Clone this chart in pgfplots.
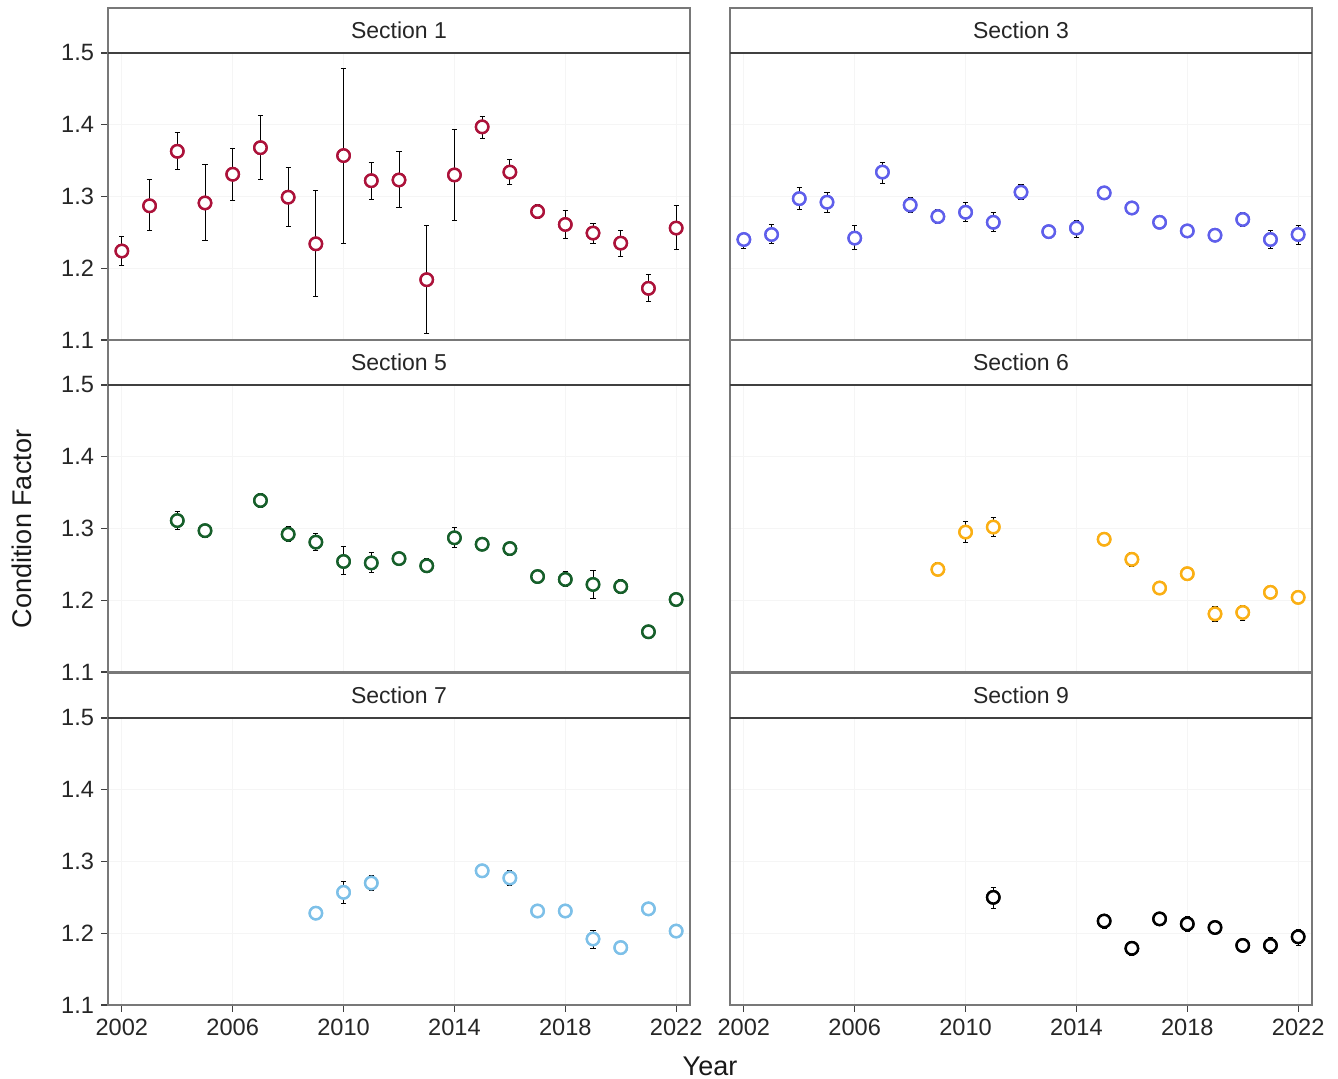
\documentclass[border=0pt]{standalone}
\usepackage{pgfplots}
\pgfplotsset{compat=1.18}
\usepackage{pgfplotstable}
\usepackage{fontspec}
\setmainfont{Liberation Sans}

\definecolor{cA}{RGB}{172,18,58}
\definecolor{cB}{RGB}{95,95,235}
\definecolor{cC}{RGB}{22,95,42}
\definecolor{cD}{RGB}{250,175,20}
\definecolor{cE}{RGB}{125,192,232}
\definecolor{cF}{RGB}{0,0,0}
\definecolor{frame}{RGB}{120,120,120}

\pgfplotstableread{
x y lo hi
2002 1.224 1.204 1.244
2003 1.287 1.252 1.323
2004 1.363 1.337 1.389
2005 1.291 1.239 1.344
2006 1.331 1.295 1.367
2007 1.368 1.323 1.413
2008 1.299 1.258 1.340
2009 1.234 1.160 1.309
2010 1.357 1.235 1.479
2011 1.322 1.296 1.347
2012 1.323 1.284 1.362
2013 1.184 1.109 1.259
2014 1.330 1.266 1.393
2015 1.397 1.381 1.412
2016 1.334 1.317 1.351
2017 1.279 1.269 1.289
2018 1.261 1.241 1.281
2019 1.249 1.235 1.263
2020 1.235 1.217 1.252
2021 1.172 1.153 1.191
2022 1.256 1.226 1.287
}\secA

\pgfplotstableread{
x y lo hi
2002 1.240 1.228 1.249
2003 1.247 1.234 1.261
2004 1.297 1.282 1.312
2005 1.292 1.278 1.305
2006 1.242 1.226 1.259
2007 1.334 1.318 1.348
2008 1.288 1.278 1.298
2009 1.272 1.262 1.282
2010 1.278 1.265 1.292
2011 1.264 1.251 1.277
2012 1.306 1.296 1.316
2013 1.251 1.243 1.258
2014 1.256 1.243 1.267
2015 1.305 1.300 1.310
2016 1.284 1.279 1.289
2017 1.264 1.259 1.269
2018 1.252 1.247 1.257
2019 1.246 1.241 1.251
2020 1.268 1.258 1.277
2021 1.240 1.227 1.253
2022 1.247 1.233 1.260
}\secB

\pgfplotstableread{
x y lo hi
2004 1.311 1.298 1.324
2005 1.297 1.288 1.304
2007 1.339 1.329 1.349
2008 1.292 1.282 1.303
2009 1.281 1.269 1.293
2010 1.254 1.236 1.275
2011 1.252 1.239 1.267
2012 1.258 1.251 1.267
2013 1.248 1.239 1.258
2014 1.287 1.274 1.301
2015 1.278 1.274 1.282
2016 1.272 1.263 1.281
2017 1.233 1.228 1.238
2018 1.229 1.219 1.240
2019 1.222 1.202 1.242
2020 1.219 1.209 1.229
2021 1.156 1.153 1.159
2022 1.201 1.198 1.204
}\secC

\pgfplotstableread{
x y lo hi
2009 1.243 1.234 1.252
2010 1.295 1.280 1.310
2011 1.302 1.289 1.316
2015 1.285 1.281 1.289
2016 1.257 1.247 1.266
2017 1.217 1.213 1.221
2018 1.237 1.233 1.241
2019 1.181 1.170 1.191
2020 1.183 1.172 1.193
2021 1.211 1.207 1.215
2022 1.204 1.200 1.208
}\secD

\pgfplotstableread{
x y lo hi
2009 1.228 1.220 1.236
2010 1.257 1.241 1.272
2011 1.270 1.259 1.281
2015 1.287 1.283 1.291
2016 1.277 1.267 1.287
2017 1.231 1.227 1.235
2018 1.231 1.227 1.235
2019 1.192 1.179 1.204
2020 1.180 1.176 1.184
2021 1.234 1.230 1.238
2022 1.203 1.194 1.211
}\secE

\pgfplotstableread{
x y lo hi
2011 1.250 1.234 1.264
2015 1.217 1.206 1.225
2016 1.179 1.169 1.188
2017 1.220 1.216 1.224
2018 1.213 1.203 1.223
2019 1.208 1.204 1.212
2020 1.183 1.179 1.187
2021 1.183 1.172 1.194
2022 1.195 1.183 1.205
}\secF

\pgfplotsset{
  panel/.style={
    scale only axis, width=291pt, height=143.5pt, anchor=south west,
    xmin=2001.5, xmax=2022.5, ymin=1.1, ymax=1.5,
    xtick={2002,2006,2010,2014,2018,2022},
    ytick={1.1,1.2,1.3,1.4,1.5},
    tick pos=left, tick align=outside, major tick length=3.5pt,
    axis line style={frame, line width=0.6pt},
    tick style={black!75, line width=0.6pt},
    grid=major, grid style={black!4, line width=0.5pt},
    tick label style={font=\fontsize{11.8}{13}\selectfont, black!85},
    /pgf/number format/assume math mode=true,
    xticklabel style={/pgf/number format/1000 sep={}},
    yticklabel style={/pgf/number format/.cd, fixed, fixed zerofill, precision=1},
  },
  nox/.style={xticklabels={}, xtick style={draw=none}},
  noy/.style={yticklabels={}, ytick style={draw=none}},
  pts/.style={only marks, mark=o, mark size=3.1pt,
    mark options={line width=1.2pt, fill=white, draw=#1},
    error bars/.cd, y dir=both, y explicit,
    error bar style={black, line width=0.5pt},
    error mark options={black, line width=0.5pt, mark size=1.3pt, rotate=90}},
}

\newcommand{\series}[2]{%
  \addplot[pts=#2] table[x=x, y=y,
    y error plus expr=\thisrow{hi}-\thisrow{y},
    y error minus expr=\thisrow{y}-\thisrow{lo}] {#1};
  \addplot[only marks, mark=*, mark size=3.1pt,
    mark options={line width=1.2pt, fill=white, draw=#2}] table[x=x, y=y] {#1};
}

\newcommand{\strip}[2]{%
  \draw[frame, line width=0.6pt, fill=white] (#1.north west) rectangle ([yshift=22.5pt]#1.north east);
  \draw[black!75, line width=0.8pt] (#1.north west) -- (#1.north east);
  \node[font=\fontsize{11.5}{13}\selectfont, text=black!85] at ([yshift=11.25pt]$(#1.north west)!0.5!(#1.north east)$) {#2};
}

\usetikzlibrary{calc}

\begin{document}
\begin{tikzpicture}
\useasboundingbox (0,0) rectangle (669pt,539.5pt);

\begin{axis}[panel, nox, name=p1, at={(54pt,369.5pt)}]
\series{\secA}{cA}
\end{axis}
\begin{axis}[panel, nox, noy, name=p3, at={(365pt,369.5pt)}]
\series{\secB}{cB}
\end{axis}
\begin{axis}[panel, nox, name=p5, at={(54pt,203.5pt)}]
\series{\secC}{cC}
\end{axis}
\begin{axis}[panel, nox, noy, name=p6, at={(365pt,203.5pt)}]
\series{\secD}{cD}
\end{axis}
\begin{axis}[panel, name=p7, at={(54pt,37pt)}]
\series{\secE}{cE}
\end{axis}
\begin{axis}[panel, noy, name=p9, at={(365pt,37pt)}]
\series{\secF}{cF}
\end{axis}

\strip{p1}{Section 1}
\strip{p3}{Section 3}
\strip{p5}{Section 5}
\strip{p6}{Section 6}
\strip{p7}{Section 7}
\strip{p9}{Section 9}

\node[rotate=90, font=\fontsize{13.5}{15}\selectfont, text=black!90] at (11pt,275pt) {Condition Factor};
\node[font=\fontsize{13.5}{15}\selectfont, text=black!90] at (355pt,6.5pt) {Year};
\end{tikzpicture}
\end{document}
